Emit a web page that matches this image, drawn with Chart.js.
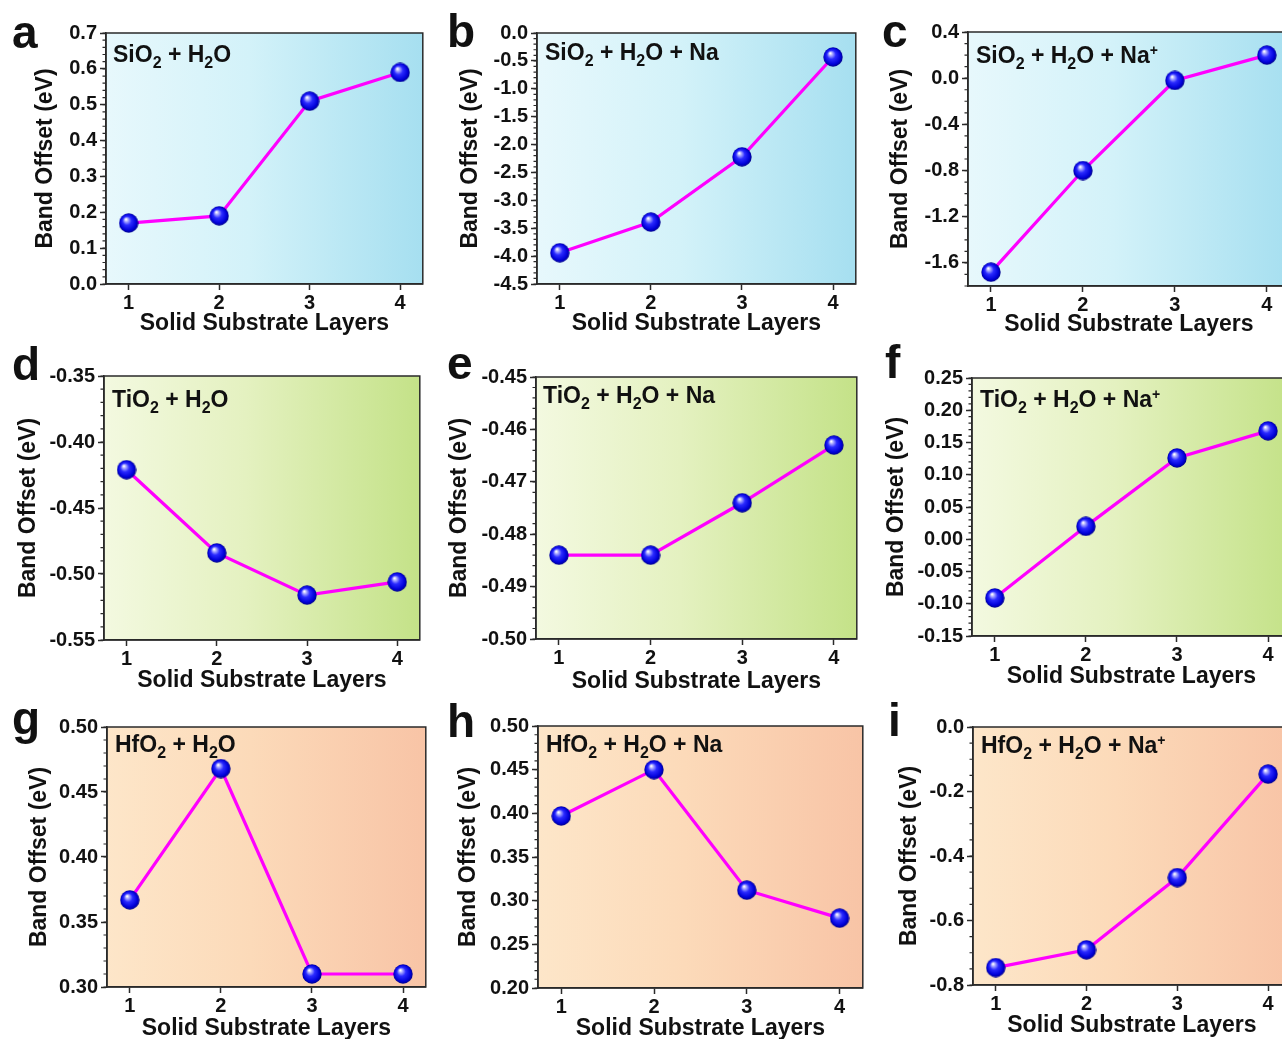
<!DOCTYPE html>
<html><head><meta charset="utf-8">
<script src="https://cdn.jsdelivr.net/npm/chart.js@4/dist/chart.umd.min.js"></script>
<style>
html,body{margin:0;padding:0;width:1282px;height:1039px;overflow:hidden;background:#fff;}
canvas{position:absolute;}
.lbl{position:absolute;font:bold 46px "Liberation Sans",Arial,sans-serif;line-height:46px;color:#111;z-index:5;}
.ttl{position:absolute;font:bold 23px "Liberation Sans",Arial,sans-serif;line-height:23px;color:#111;white-space:nowrap;z-index:5;}
.ttl sub{font-size:16px;vertical-align:-6px;line-height:0;}
.ttl sup{font-size:14px;vertical-align:8px;line-height:0;}
</style></head>
<body>
<script>
// ---------------- data ----------------
const layers = [1, 2, 3, 4];
const sio2H2O      = [0.17, 0.19, 0.51, 0.59];
const sio2H2ONa    = [-3.94, -3.39, -2.22, -0.43];
const sio2H2ONaIon = [-1.68, -0.80, -0.02, 0.20];
const tio2H2O      = [-0.421, -0.484, -0.516, -0.506];
const tio2H2ONa    = [-0.484, -0.484, -0.474, -0.463];
const tio2H2ONaIon = [-0.091, 0.020, 0.126, 0.168];
const hfo2H2O      = [0.367, 0.468, 0.310, 0.310];
const hfo2H2ONa    = [0.397, 0.450, 0.312, 0.280];
const hfo2H2ONaIon = [-0.746, -0.691, -0.467, -0.146];

const ticksA = [0.0, 0.1, 0.2, 0.3, 0.4, 0.5, 0.6, 0.7];
const ticksB = [-4.5, -4.0, -3.5, -3.0, -2.5, -2.0, -1.5, -1.0, -0.5, 0.0];
const ticksC = [-1.6, -1.2, -0.8, -0.4, 0.0, 0.4];
const ticksD = [-0.55, -0.50, -0.45, -0.40, -0.35];
const ticksE = [-0.50, -0.49, -0.48, -0.47, -0.46, -0.45];
const ticksF = [-0.15, -0.10, -0.05, 0.00, 0.05, 0.10, 0.15, 0.20, 0.25];
const ticksG = [0.30, 0.35, 0.40, 0.45, 0.50];
const ticksH = [0.20, 0.25, 0.30, 0.35, 0.40, 0.45, 0.50];
const ticksI = [-0.8, -0.6, -0.4, -0.2, 0.0];

const xTitle = 'Solid Substrate Layers';
const yTitle = 'Band Offset (eV)';

// ---------------- layout / style ----------------
const rowStops = [
  [[0,'#e7f8fc'],[0.45,'#d3f2f9'],[1,'#a6dff0']],
  [[0,'#f3f9e0'],[0.45,'#e4f1c0'],[1,'#c4e288']],
  [[0,'#fde6c9'],[0.45,'#fcdab9'],[1,'#f8c4a6']]
];
const panels = [
  {letter:'a', title:'SiO<sub>2</sub> + H<sub>2</sub>O', data:sio2H2O, ticks:ticksA, min:0, max:0.7, minor:0.02, dec:1, box:[106,32,424,284], yOff:60, xOff:39, row:0, lp:[12,48], tp:[113,62]},
  {letter:'b', title:'SiO<sub>2</sub> + H<sub>2</sub>O + Na', data:sio2H2ONa, ticks:ticksB, min:-4.5, max:0, minor:0.1, dec:1, box:[537,32,857,284], yOff:66, xOff:39, row:0, lp:[447,47], tp:[545,60]},
  {letter:'c', title:'SiO<sub>2</sub> + H<sub>2</sub>O + Na<sup>+</sup>', data:sio2H2ONaIon, ticks:ticksC, min:-1.8, max:0.4, minor:0.1, dec:1, box:[968,31,1291,286], yOff:67, xOff:38, row:0, lp:[882,47], tp:[976,63]},
  {letter:'d', title:'TiO<sub>2</sub> + H<sub>2</sub>O', data:tio2H2O, ticks:ticksD, min:-0.55, max:-0.35, minor:0.01, dec:2, box:[104,375,421,640], yOff:75, xOff:40, row:1, lp:[12,380], tp:[112,407]},
  {letter:'e', title:'TiO<sub>2</sub> + H<sub>2</sub>O + Na', data:tio2H2ONa, ticks:ticksE, min:-0.50, max:-0.45, minor:0.002, dec:2, box:[536,376,858,639], yOff:76, xOff:42, row:1, lp:[447,379], tp:[543,403]},
  {letter:'f', title:'TiO<sub>2</sub> + H<sub>2</sub>O + Na<sup>+</sup>', data:tio2H2ONaIon, ticks:ticksF, min:-0.15, max:0.25, minor:0.01, dec:2, box:[972,377,1292,636], yOff:75, xOff:40, row:1, lp:[885,378], tp:[980,407]},
  {letter:'g', title:'HfO<sub>2</sub> + H<sub>2</sub>O', data:hfo2H2O, ticks:ticksG, min:0.30, max:0.50, minor:0.01, dec:2, box:[107,726,427,987], yOff:67, xOff:41, row:2, lp:[12,734], tp:[115,752]},
  {letter:'h', title:'HfO<sub>2</sub> + H<sub>2</sub>O + Na', data:hfo2H2ONa, ticks:ticksH, min:0.20, max:0.50, minor:0.01, dec:2, box:[538,725,864,988], yOff:69, xOff:40, row:2, lp:[447,737], tp:[546,752]},
  {letter:'i', title:'HfO<sub>2</sub> + H<sub>2</sub>O + Na<sup>+</sup>', data:hfo2H2ONaIon, ticks:ticksI, min:-0.8, max:0.0, minor:0.05, dec:1, box:[973,726,1292,985], yOff:63, xOff:40, row:2, lp:[888,736], tp:[981,753]}
];

const FONT = '"Liberation Sans", Arial, sans-serif';
const TXT = '#111111';
const AX = '#2a2a2a';

function makeSphere(d){
  const c = document.createElement('canvas'); c.width = c.height = d;
  const x = c.getContext('2d'); const r = d/2;
  const g = x.createRadialGradient(r*0.72, r*0.62, r*0.04, r, r, r);
  g.addColorStop(0, '#ffffff');
  g.addColorStop(0.16, '#a8a8ff');
  g.addColorStop(0.42, '#2a2aff');
  g.addColorStop(0.8, '#0000d8');
  g.addColorStop(1, '#000080');
  x.fillStyle = g; x.beginPath(); x.arc(r, r, r-0.3, 0, Math.PI*2); x.fill();
  return c;
}
const sphere = makeSphere(20);

const decor = {
  id: 'decor',
  beforeDraw(chart, args, opts){
    const {ctx, chartArea:a} = chart;
    const g = ctx.createLinearGradient(a.left, 0, a.right, 0);
    opts.stops.forEach(s => g.addColorStop(s[0], s[1]));
    ctx.save(); ctx.fillStyle = g;
    ctx.fillRect(a.left, a.top, a.right-a.left, a.bottom-a.top);
    ctx.restore();
  },
  beforeDatasetsDraw(chart, args, opts){
    const {ctx, chartArea:a} = chart; const y = chart.scales.y;
    ctx.save();
    ctx.strokeStyle = AX; ctx.lineWidth = 1.5;
    ctx.strokeRect(a.left, a.top, a.right-a.left, a.bottom-a.top);
    ctx.lineWidth = 1.2;
    const n = Math.round((y.max - y.min)/opts.minor);
    ctx.beginPath();
    for (let i = 0; i <= n; i++){
      const p = y.getPixelForValue(y.min + i*opts.minor);
      ctx.moveTo(a.left, p); ctx.lineTo(a.left - 3.5, p);
    }
    ctx.stroke(); ctx.restore();
  }
};

const PADT = 14, PADR = 12;
panels.forEach(p => {
  const [L,T,R,B] = p.box;
  const yw = p.yOff + 14, xh = p.xOff + 14;
  const W = yw + (R-L) + PADR, H = PADT + (B-T) + xh;
  const cv = document.createElement('canvas');
  cv.width = W; cv.height = H;
  cv.style.left = (L - yw) + 'px'; cv.style.top = (T - PADT) + 'px';
  cv.style.width = W + 'px'; cv.style.height = H + 'px';
  document.body.appendChild(cv);

  const lb = document.createElement('div'); lb.className = 'lbl';
  lb.textContent = p.letter;
  lb.style.left = p.lp[0] + 'px'; lb.style.top = (p.lp[1] - 39) + 'px';
  document.body.appendChild(lb);
  const tt = document.createElement('div'); tt.className = 'ttl';
  tt.innerHTML = p.title;
  tt.style.left = p.tp[0] + 'px'; tt.style.top = (p.tp[1] - 19.5) + 'px';
  document.body.appendChild(tt);

  new Chart(cv, {
    type: 'line',
    data: { datasets: [{
      data: layers.map((x, i) => ({x: x, y: p.data[i]})),
      borderColor: '#ff00ff', borderWidth: 3.2, tension: 0,
      pointStyle: sphere, pointRadius: 10, pointHoverRadius: 10, clip: false
    }]},
    options: {
      responsive: false, animation: false, events: [],
      layout: { padding: {left: 0, top: PADT, right: PADR, bottom: 0} },
      plugins: { legend: {display: false}, tooltip: {enabled: false}, decor: {stops: rowStops[p.row], minor: p.minor} },
      scales: {
        x: {
          type: 'linear', min: 0.75, max: 4.25,
          afterBuildTicks: s => { s.ticks = layers.map(v => ({value: v})); },
          afterFit: s => { s.height = xh; },
          ticks: { autoSkip: false, maxRotation: 0, padding: 1, color: TXT, font: {family: FONT, size: 20, weight: 'bold'}, callback: v => String(v) },
          grid: { drawOnChartArea: false, drawTicks: true, tickLength: 6, tickColor: AX, tickWidth: 1.5 },
          border: { color: AX, width: 1.5 },
          title: { display: true, text: xTitle, color: TXT, padding: 0, font: {family: FONT, size: 23, weight: 'bold'} }
        },
        y: {
          type: 'linear', min: p.min, max: p.max,
          afterBuildTicks: s => { s.ticks = p.ticks.map(v => ({value: v})); },
          afterFit: s => { s.width = yw; },
          ticks: { autoSkip: false, padding: 3, color: TXT, font: {family: FONT, size: 20, weight: 'bold'},
                   callback: v => (Math.abs(v) < 1e-9 ? 0 : v).toFixed(p.dec) },
          grid: { drawOnChartArea: false, drawTicks: true, tickLength: 6, tickColor: AX, tickWidth: 1.5 },
          border: { color: AX, width: 1.5 },
          title: { display: true, text: yTitle, color: TXT, padding: 0, font: {family: FONT, size: 23, weight: 'bold'} }
        }
      }
    },
    plugins: [decor]
  });
});
</script>
</body></html>
